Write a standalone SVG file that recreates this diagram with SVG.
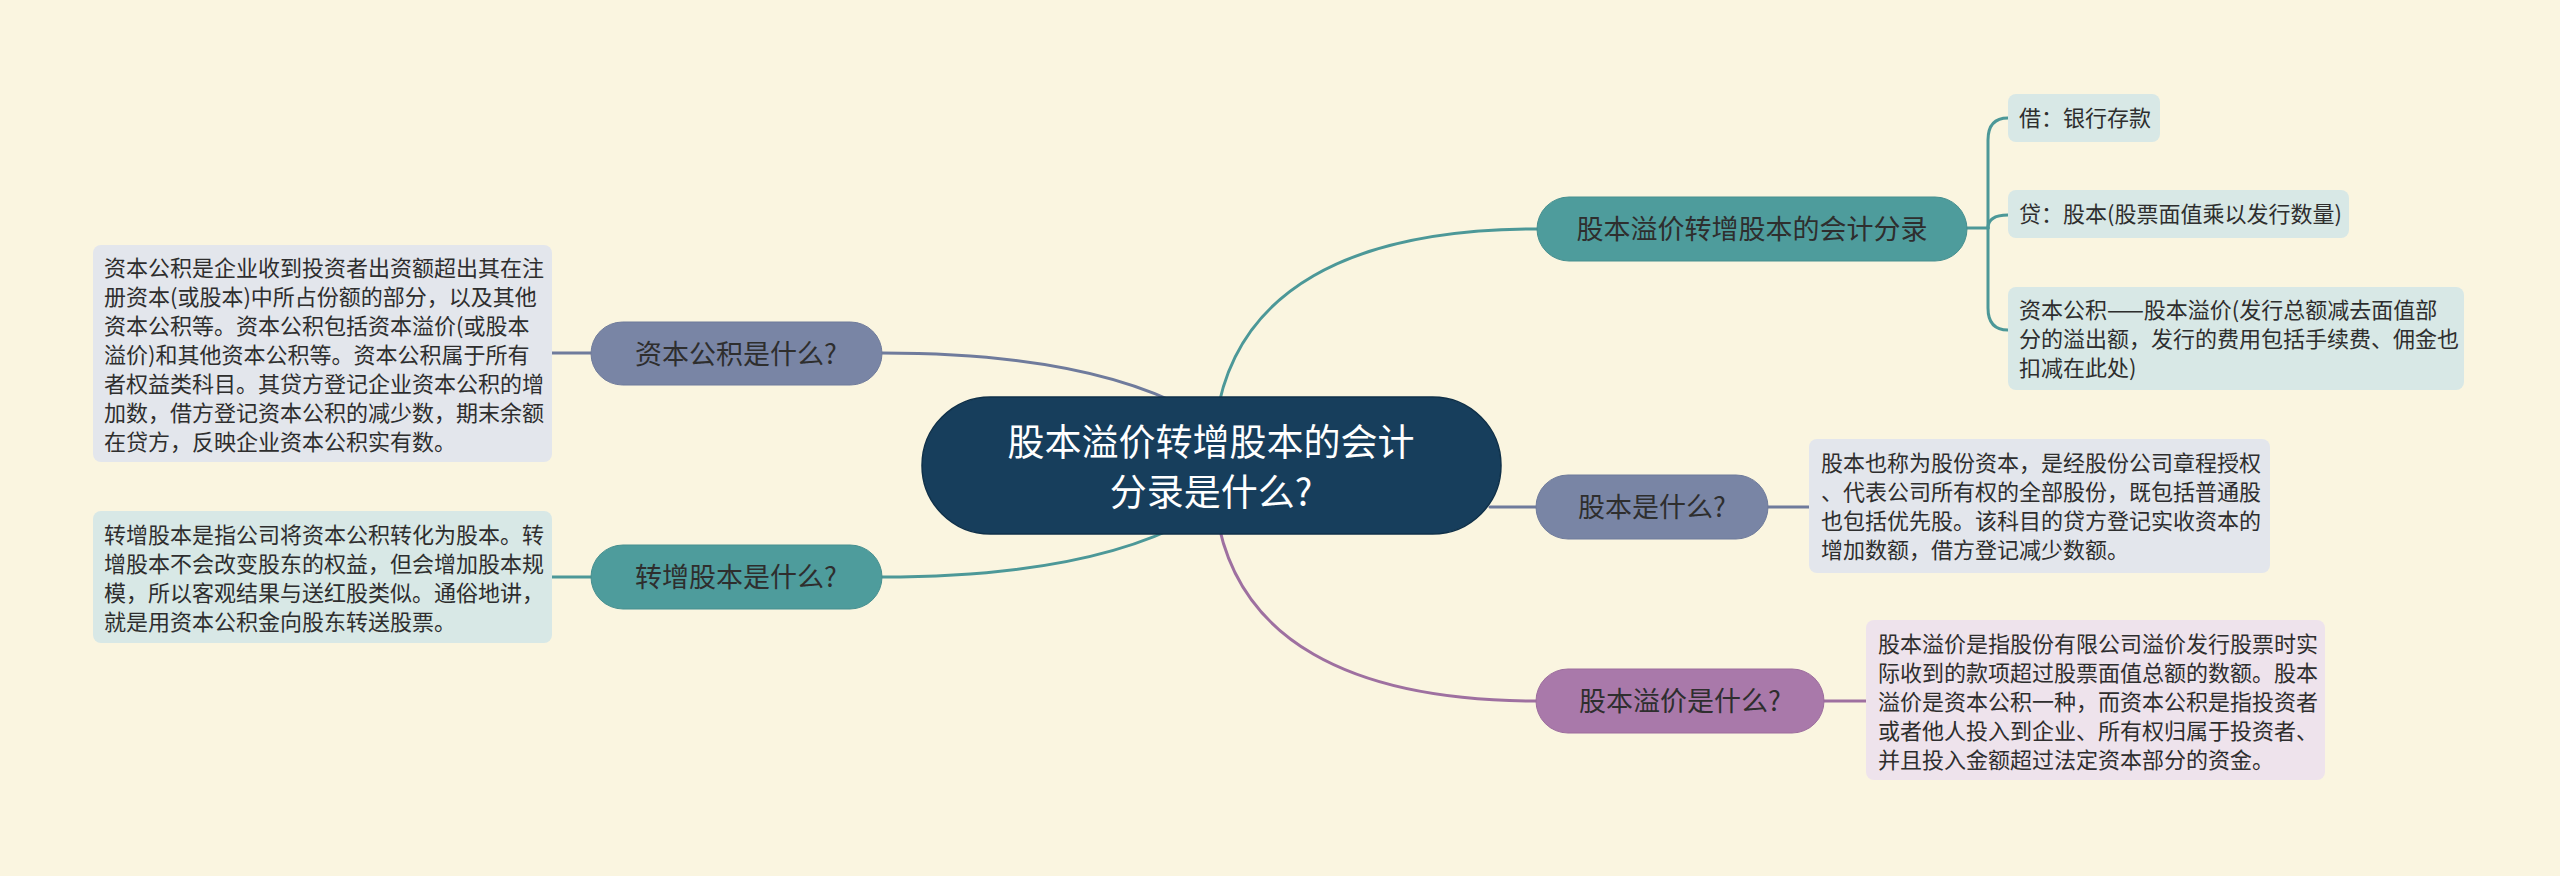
<svg xmlns="http://www.w3.org/2000/svg" width="2560" height="876" viewBox="0 0 2560 876">
<style>
text{font-family:"Noto Sans CJK SC","Noto Sans",sans-serif;fill:#2e2e2e}
.c{stroke-width:3;fill:none;stroke-linecap:round}
.teal{stroke:#4c9898}
.slate{stroke:#6f7b9c}
.purp{stroke:#9e70a0}
.n{font-size:27px;text-anchor:middle}
.t{font-size:22px}
</style>
<rect width="2560" height="876" fill="#faf5e0"/>
<g id="connectors">
<path class="c teal" d="M1216 420 C1235 290 1350 229 1538 229"/>
<path class="c purp" d="M1216 510 C1235 640 1350 701 1538 701"/>
<path class="c slate" d="M1490 507 L1538 507"/>
<path class="c slate" d="M882 353 C1030 353 1125 375 1190 410"/>
<path class="c teal" d="M882 577 C1030 577 1125 555 1190 520"/>
<path class="c slate" d="M552 353 L591 353"/>
<path class="c teal" d="M552 577 L591 577"/>
<path class="c slate" d="M1768 507 L1809 507"/>
<path class="c purp" d="M1824 701 L1866 701"/>
<path class="c teal" d="M1967 228 L1988 228"/>
<path class="c teal" d="M1988 228 L1988 140 Q1988 118 2008 118"/>
<path class="c teal" d="M1988 228 Q1988 215 2008 215"/>
<path class="c teal" d="M1988 228 L1988 308 Q1988 330 2008 330"/>
</g>
<g id="central">
<rect x="922" y="397" width="579" height="137" rx="68.5" fill="#173e5c" stroke="#0f3049" stroke-width="1.5"/>
<text x="1211" y="456" font-size="37" text-anchor="middle" style="fill:#ffffff">股本溢价转增股本的会计</text>
<text x="1211" y="506" font-size="37" text-anchor="middle" style="fill:#ffffff">分录是什么?</text>
</g>
<g id="node-entry">
<rect x="1537" y="197" width="430" height="64" rx="32" fill="#4e9c9c" stroke="#468f8f" stroke-width="1"/>
<text class="n" x="1752" y="239">股本溢价转增股本的会计分录</text>
</g>
<g id="leaf-debit">
<rect x="2008" y="94" width="152" height="48" rx="8" fill="#d8e8e6"/>
<text class="t" x="2019" y="126">借：银行存款</text>
</g>
<g id="leaf-credit">
<rect x="2008" y="190" width="341" height="48" rx="8" fill="#d8e8e6"/>
<text class="t" x="2019" y="222">贷：股本(股票面值乘以发行数量)</text>
</g>
<g id="leaf-premium">
<rect x="2008" y="287" width="456" height="103" rx="8" fill="#d8e8e6"/>
<text class="t" x="2019" y="318">资本公积——股本溢价(发行总额减去面值部</text>
<text class="t" x="2019" y="347">分的溢出额，发行的费用包括手续费、佣金也</text>
<text class="t" x="2019" y="376">扣减在此处)</text>
</g>
<g id="node-guben">
<rect x="1536" y="475" width="232" height="64" rx="32" fill="#7985a5" stroke="#6f7b9b" stroke-width="1"/>
<text class="n" x="1652" y="517">股本是什么?</text>
</g>
<g id="note-guben">
<rect x="1809" y="439" width="461" height="134" rx="8" fill="#e3e6ec"/>
<text class="t" x="1821" y="471">股本也称为股份资本，是经股份公司章程授权</text>
<text class="t" x="1821" y="500">、代表公司所有权的全部股份，既包括普通股</text>
<text class="t" x="1821" y="529">也包括优先股。该科目的贷方登记实收资本的</text>
<text class="t" x="1821" y="558">增加数额，借方登记减少数额。</text>
</g>
<g id="node-yijia">
<rect x="1536" y="669" width="288" height="64" rx="32" fill="#a979aa" stroke="#9c6d9d" stroke-width="1"/>
<text class="n" x="1680" y="711">股本溢价是什么?</text>
</g>
<g id="note-yijia">
<rect x="1866" y="620" width="459" height="160" rx="8" fill="#eee3ec"/>
<text class="t" x="1878" y="652">股本溢价是指股份有限公司溢价发行股票时实</text>
<text class="t" x="1878" y="681">际收到的款项超过股票面值总额的数额。股本</text>
<text class="t" x="1878" y="710">溢价是资本公积一种，而资本公积是指投资者</text>
<text class="t" x="1878" y="739">或者他人投入到企业、所有权归属于投资者、</text>
<text class="t" x="1878" y="768">并且投入金额超过法定资本部分的资金。</text>
</g>
<g id="node-zbgj">
<rect x="591" y="322" width="291" height="63" rx="31.5" fill="#7985a5" stroke="#6f7b9b" stroke-width="1"/>
<text class="n" x="736" y="364">资本公积是什么?</text>
</g>
<g id="note-zbgj">
<rect x="93" y="245" width="459" height="217" rx="8" fill="#e3e6ec"/>
<text class="t" x="104" y="276">资本公积是企业收到投资者出资额超出其在注</text>
<text class="t" x="104" y="305">册资本(或股本)中所占份额的部分，以及其他</text>
<text class="t" x="104" y="334">资本公积等。资本公积包括资本溢价(或股本</text>
<text class="t" x="104" y="363">溢价)和其他资本公积等。资本公积属于所有</text>
<text class="t" x="104" y="392">者权益类科目。其贷方登记企业资本公积的增</text>
<text class="t" x="104" y="421">加数，借方登记资本公积的减少数，期末余额</text>
<text class="t" x="104" y="450">在贷方，反映企业资本公积实有数。</text>
</g>
<g id="node-zzgb">
<rect x="591" y="545" width="291" height="64" rx="32" fill="#4e9c9c" stroke="#468f8f" stroke-width="1"/>
<text class="n" x="736" y="587">转增股本是什么?</text>
</g>
<g id="note-zzgb">
<rect x="93" y="511" width="459" height="132" rx="8" fill="#d8e8e6"/>
<text class="t" x="104" y="543">转增股本是指公司将资本公积转化为股本。转</text>
<text class="t" x="104" y="572">增股本不会改变股东的权益，但会增加股本规</text>
<text class="t" x="104" y="601">模，所以客观结果与送红股类似。通俗地讲，</text>
<text class="t" x="104" y="630">就是用资本公积金向股东转送股票。</text>
</g>
</svg>
